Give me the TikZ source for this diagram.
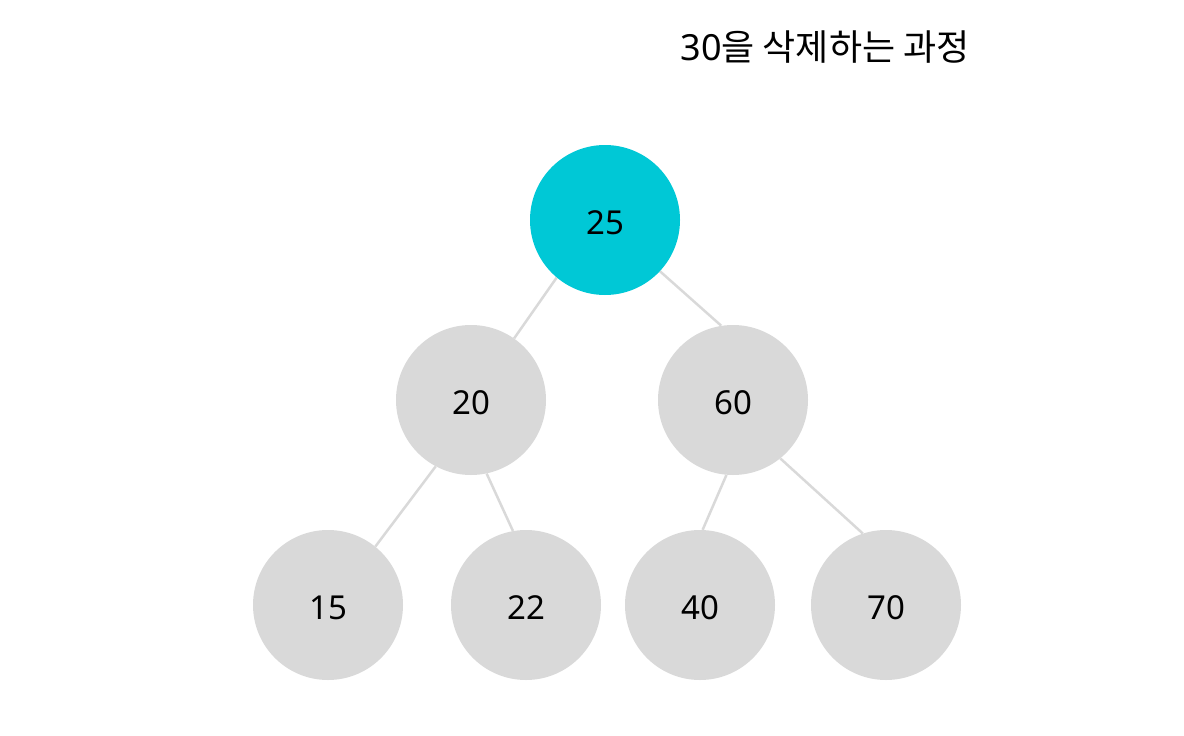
\documentclass[tikz,border=0pt]{standalone}
\usepackage{fontspec}
\setmainfont{Noto Sans}
\newfontfamily\cjk{Noto Sans CJK KR}
\usetikzlibrary{backgrounds}
\definecolor{rootcyan}{RGB}{0,200,214}
\definecolor{nodegray}{RGB}{217,217,217}
\newcommand{\lowlbl}[1]{\raisebox{-3pt}[\height][\depth]{#1}}
\tikzset{
  treenode/.style={circle, fill=nodegray, minimum size=150pt, inner sep=0pt, font=\fontsize{33}{38}\selectfont, text=black},
  rootnode/.style={treenode, fill=rootcyan},
  treeedge/.style={draw=nodegray, line width=2.5pt},
}
\begin{document}
\begin{tikzpicture}[x=1pt,y=-1pt]
\useasboundingbox (0,0) rectangle (1184,736);
\node[font=\fontsize{36}{40}\selectfont] (title) at (825,47) {30{\cjk 을 삭제하는 과정}};
\node[rootnode] (n25) at (605,220) {\lowlbl{25}};
\node[treenode] (n20) at (471,400) {\lowlbl{20}};
\node[treenode] (n60) at (733,400) {\lowlbl{60}};
\node[treenode] (n15) at (328,605) {\lowlbl{15}};
\node[treenode] (n22) at (526,605) {\lowlbl{22}};
\node[treenode] (n40) at (700,605) {\lowlbl{40}};
\node[treenode] (n70) at (886,605) {\lowlbl{70}};
\begin{scope}[on background layer]
\draw[treeedge] (n25.-130) -- (n20.55);
\draw[treeedge] (n25.-43) -- (n60.99);
\draw[treeedge] (n20.-118) -- (n15.51);
\draw[treeedge] (n20.-78) -- (n22.100);
\draw[treeedge] (n60.-95) -- (n40.88);
\draw[treeedge] (n60.-51) -- (n70.108);
\end{scope}
\end{tikzpicture}
\end{document}
